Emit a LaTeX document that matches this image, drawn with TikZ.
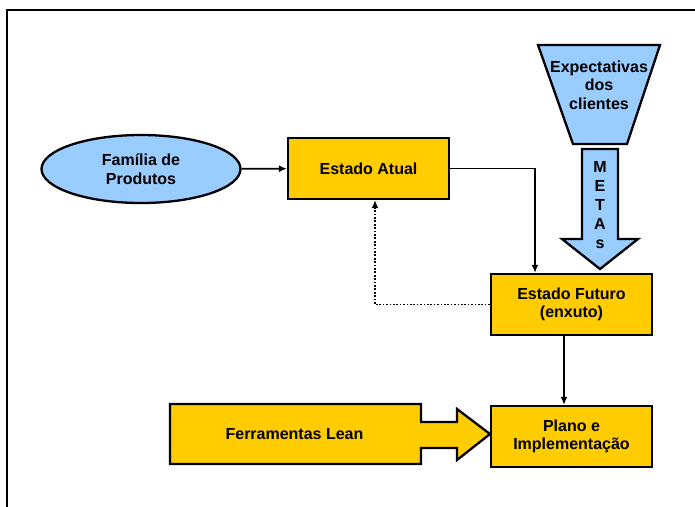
\documentclass[tikz,border=0pt]{standalone}
\usepackage{fontspec}
\setmainfont{Liberation Sans}
\usepackage{xcolor}
\usetikzlibrary{shapes.geometric, arrows.meta}

\definecolor{vsmyellow}{HTML}{FFCC00}
\definecolor{vsmblue}{HTML}{99CCFF}

\tikzset{
  txt/.style={font=\fontsize{16}{18.5}\selectfont\bfseries, align=center},
  box/.style={txt, draw, line width=2.3pt, fill=vsmyellow, minimum width=161pt, minimum height=61pt, inner sep=0pt},
  blob/.style={txt, ellipse, draw, line width=2.3pt, fill=vsmblue, minimum width=199pt, minimum height=68pt, inner sep=0pt},
  flow/.style={line width=1.7pt}
}

\begin{document}
\begin{tikzpicture}[x=1pt, y=-1pt, >={Latex[length=8pt,width=7pt]}]
  \useasboundingbox (0,0) rectangle (695,506);
  \draw[line width=2.3pt] (7,520) |- (710,10);

  \node[blob] (fam) at (141,169) {Família de\\Produtos};
  \node[box] (atual) at (368.5,168.5) {Estado Atual};
  \node[box] (futuro) at (571.5,304.5) {Estado Futuro\\(enxuto)};
  \node[box] (plano) at (571.5,436.5) {Plano e\\Implementação};

  % funil e seta das metas
  \draw[line width=2.3pt, fill=vsmblue] (538,45) -- (660,45) -- (627,144) -- (573,144) -- cycle;
  \node[txt] (expect) at (599,85) {Expectativas\\dos\\clientes};
  \draw[line width=2.3pt, fill=vsmblue] (582,149) -- (618,149) -- (618,239) -- (638,239)
    -- (600,269) -- (562,239) -- (582,239) -- cycle;
  \node[txt, font=\fontsize{16}{19}\selectfont\bfseries] (metas) at (600,205) {M\\E\\T\\A\\s};

  % ferramentas
  \draw[line width=2.3pt, fill=vsmyellow] (170,404) -- (421,404) -- (421,422) -- (457,422)
    -- (457,409) -- (490,434) -- (457,460) -- (457,448) -- (421,448) -- (421,464)
    -- (170,464) -- cycle;
  \node[txt] (lean) at (294.5,434) {Ferramentas Lean};

  \draw[flow, ->] (fam) -- (atual);
  \draw[flow, ->] (atual.east) -| ([xshift=-36.5pt]futuro.north);
  \draw[flow, ->, dash pattern=on 1.7pt off 1.7pt] (futuro.west) -| ([xshift=6.5pt]atual.south);
  \draw[flow, ->] ([xshift=-7.5pt]futuro.south) -- ([xshift=-7.5pt]plano.north);
\end{tikzpicture}
\end{document}
